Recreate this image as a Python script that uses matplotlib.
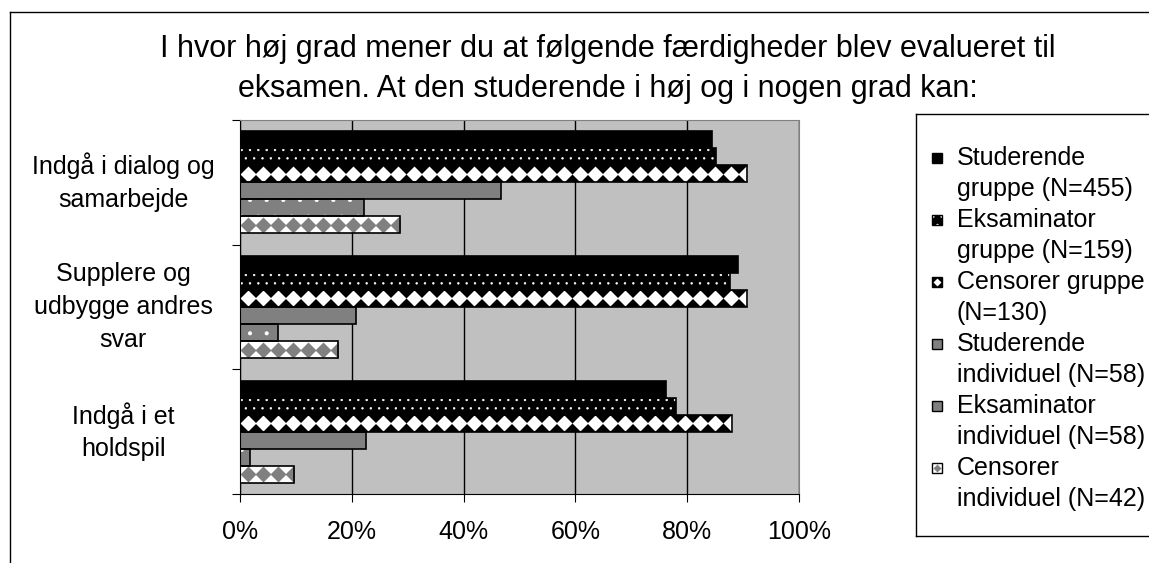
import matplotlib
import numpy as np

matplotlib.use("Agg")
import matplotlib.pyplot as plt
from matplotlib.lines import Line2D
from matplotlib.patches import Rectangle

plt.rcParams["font.family"] = ["Liberation Sans", "DejaVu Sans"]
plt.rcParams["hatch.linewidth"] = 0.5

W, H = 1149, 563

title = ("I hvor høj grad mener du at følgende færdigheder blev evalueret til\n"
         "eksamen. At den studerende i høj og i nogen grad kan:")

categories = ["Indgå i dialog og\nsamarbejde",
              "Supplere og\nudbygge andres\nsvar",
              "Indgå i et\nholdspil"]
series_labels = ["Studerende\ngruppe (N=455)",
                 "Eksaminator\ngruppe (N=159)",
                 "Censorer gruppe\n(N=130)",
                 "Studerende\nindividuel (N=58)",
                 "Eksaminator\nindividuel (N=58)",
                 "Censorer\nindividuel (N=42)"]

stud_gruppe = [0.844, 0.891, 0.762]
eks_gruppe = [0.852, 0.877, 0.780]
cens_gruppe = [0.907, 0.907, 0.880]
stud_ind = [0.467, 0.207, 0.225]
eks_ind = [0.222, 0.068, 0.018]
cens_ind = [0.286, 0.175, 0.097]
series_values = [stud_gruppe, eks_gruppe, cens_gruppe, stud_ind, eks_ind, cens_ind]

x_ticks = [0, 0.2, 0.4, 0.6, 0.8, 1.0]
x_ticklabels = ["0%", "20%", "40%", "60%", "80%", "100%"]

# face colour, white dot hatch, diamond colour
STYLES = [
    dict(face="black", hatch=None, diamond=None),
    dict(face="black", hatch="..", diamond=None),
    dict(face="black", hatch=None, diamond="white"),
    dict(face="#808080", hatch=None, diamond=None),
    dict(face="#808080", hatch=".", diamond=None),
    dict(face="white", hatch=None, diamond="#808080"),
]


def fill_diamonds(ax, patch, color, step, ms):
    x0 = patch.get_x()
    w = patch.get_width()
    yc = patch.get_y() + patch.get_height() / 2
    xs = np.arange(x0 + step / 2, x0 + w + step / 2, step)
    (ln,) = ax.plot(xs, np.full_like(xs, yc), "D", ms=ms, color=color, mec="none", zorder=3)
    ln.set_clip_path(patch)


fig = plt.figure(figsize=(W / 100, H / 100), dpi=100)
ax = fig.add_axes([240 / W, 1 - 494 / H, (799 - 240) / W, (494 - 120) / H])
ax.set_facecolor("#C0C0C0")

n = len(series_values)
group = 0.82
h = group / n
y = np.arange(len(categories))

for k, (vals, st) in enumerate(zip(series_values, STYLES)):
    pos = y - group / 2 + h * (k + 0.5)
    bars = ax.barh(pos, vals, height=h, color=st["face"],
                   edgecolor="white" if st["hatch"] else st["face"],
                   hatch=st["hatch"], linewidth=0, zorder=2)
    for b in bars:
        if st["diamond"]:
            fill_diamonds(ax, b, st["diamond"], 0.027, 8.2)
    ax.barh(pos, vals, height=h, fill=False, edgecolor="black", linewidth=1.2, zorder=4)

ax.set_xlim(0, 1)
ax.set_ylim(2.5, -0.5)
ax.set_xticks(x_ticks)
ax.set_xticklabels(x_ticklabels, fontsize=18)
ax.tick_params(axis="x", direction="out", length=6, pad=13, color="black")
ax.set_yticks([-0.5, 0.5, 1.5, 2.5])
ax.set_yticklabels([])
ax.set_yticks(y, minor=True)
ax.set_yticklabels(categories, minor=True, fontsize=18, ha="center",
                   multialignment="center", linespacing=1.45)
for lbl in ax.get_yticklabels(minor=True):
    lbl.set_verticalalignment("center")
ax.tick_params(axis="y", which="major", direction="out", length=6)
ax.tick_params(axis="y", which="minor", length=0, pad=84)

ax.xaxis.grid(True, color="black", linewidth=1)
ax.set_axisbelow(True)
for s in ["top", "right"]:
    ax.spines[s].set_color("#808080")
for s in ["left", "bottom"]:
    ax.spines[s].set_color("black")

fig.text(608 / W, 1 - 69 / H, title, ha="center", va="center", fontsize=22,
         multialignment="center", linespacing=1.4)

# chart area border (left and top only visible)
fig.add_artist(Line2D([10 / W, 10 / W], [0, 1 - 12 / H], transform=fig.transFigure,
                      color="black", linewidth=1))
fig.add_artist(Line2D([10 / W, 1], [1 - 12 / H, 1 - 12 / H], transform=fig.transFigure,
                      color="black", linewidth=1))

# legend box
lax = fig.add_axes([916 / W, 1 - 536 / H, (1170 - 916) / W, (536 - 114) / H])
lax.set_xlim(916, 1170)
lax.set_ylim(536, 114)
lax.set_xticks([])
lax.set_yticks([])
for s in lax.spines.values():
    s.set_color("black")
    s.set_linewidth(1)

for i, (lab, st) in enumerate(zip(series_labels, STYLES)):
    yc = 158 + 62 * i
    sw = Rectangle((932, yc - 5), 10, 10, facecolor=st["face"],
                   edgecolor="white" if st["hatch"] else st["face"],
                   hatch=st["hatch"], linewidth=0, zorder=2)
    lax.add_patch(sw)
    if st["diamond"]:
        fill_diamonds(lax, sw, st["diamond"], 10, 4)
    lax.add_patch(Rectangle((932, yc - 5), 10, 10, fill=False, edgecolor="black",
                            linewidth=1, zorder=4))
    lax.text(957, yc + 15.5, lab, ha="left", va="center", fontsize=18, linespacing=1.4)

fig.savefig("out.png", dpi=100)
